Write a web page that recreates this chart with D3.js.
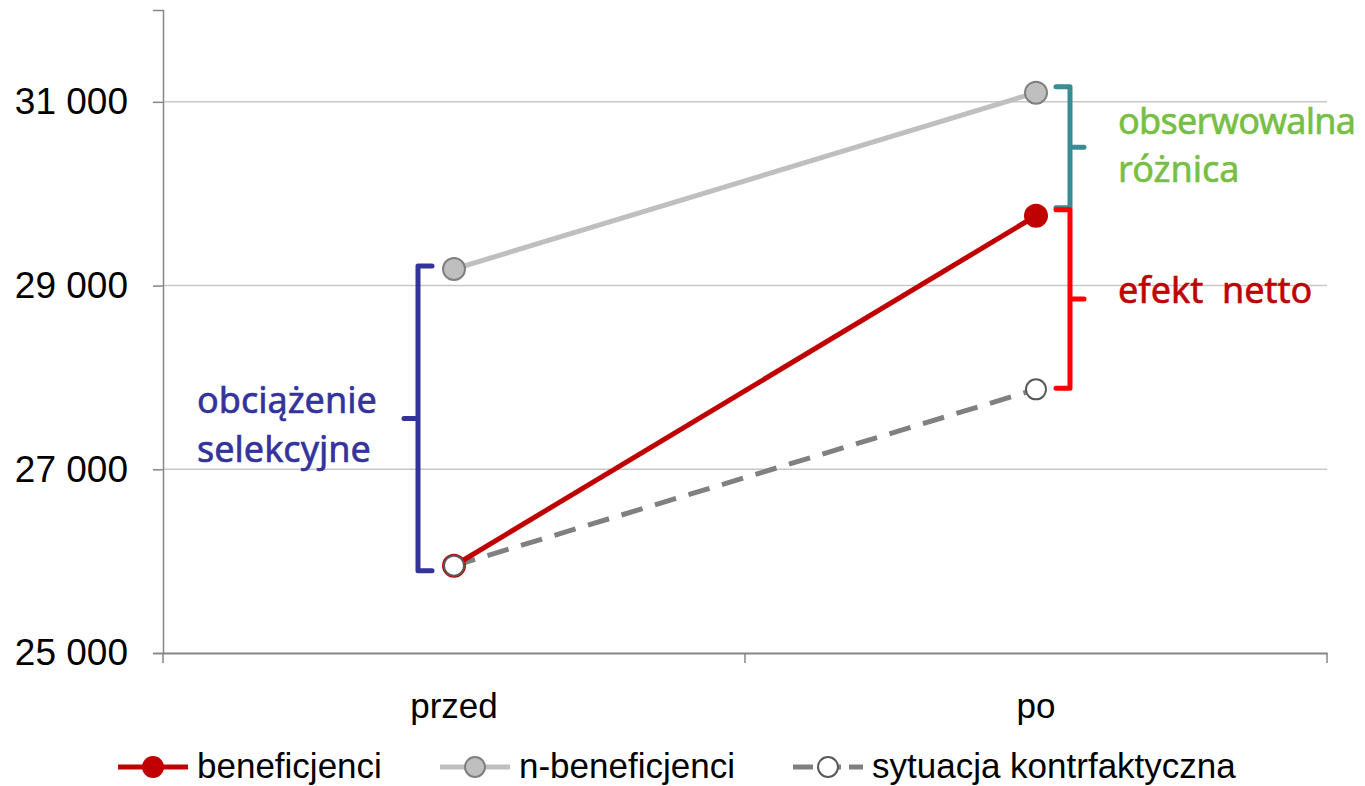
<!DOCTYPE html>
<html>
<head>
<meta charset="utf-8">
<script src="https://cdn.jsdelivr.net/npm/d3@7"></script>
<style>
  body { margin: 0; background: #fff; }
  .tick text { font-family: "Liberation Sans", Arial, sans-serif; fill: #000; }
  .note { font-family: "Noto Sans", sans-serif; font-size: 36px; stroke-width: 0.6px; }
</style>
</head>
<body>
<div id="chart"></div>
<script>
// data
var periods = ["przed", "po"];
var beneficjenci = [25950, 29760];
var nBeneficjenci = [29180, 31100];
var kontrfakt = [25950, 27870];
var yTicks = [25000, 27000, 29000, 31000];
var seriesNames = ["beneficjenci", "n-beneficjenci", "sytuacja kontrfaktyczna"];

var svg = d3.select("#chart").append("svg")
    .attr("width", 1365)
    .attr("height", 786);

var margin = {top: 10, right: 38, bottom: 133, left: 163},
    width = 1365 - margin.left - margin.right,
    height = 786 - margin.top - margin.bottom;

var g = svg.append("g")
    .attr("transform", "translate(" + margin.left + "," + margin.top + ")");

var x = d3.scaleBand().domain(periods).range([0, width]);
var y = d3.scaleLinear().domain([25000, 32000]).range([height, 0]);
var cx = function(i) { return x(periods[i]) + x.bandwidth() / 2; };
var fmt = function(d) { return d3.format(",")(d).replace(",", " "); };

// gridlines
g.selectAll(".grid")
    .data(yTicks.slice(1))
  .enter().append("line")
    .attr("x1", 0).attr("x2", width)
    .attr("y1", function(d) { return y(d); })
    .attr("y2", function(d) { return y(d); })
    .attr("stroke", "#c8c8c8").attr("stroke-width", 1.5);

// axes
var yAxis = g.append("g")
    .call(d3.axisLeft(y).tickValues(yTicks).tickFormat(fmt).tickSize(10).tickPadding(25));
yAxis.selectAll("text").style("font-size", "37px");
yAxis.selectAll("line,path").attr("stroke", "#868686").attr("stroke-width", 1.5);

var xAxis = g.append("g")
    .attr("transform", "translate(0," + height + ")")
    .call(d3.axisBottom(x).tickSize(0).tickPadding(40));
xAxis.selectAll("text").style("font-size", "35px");
xAxis.select(".domain").attr("stroke", "#868686").attr("stroke-width", 2);
xAxis.selectAll(".bound")
    .data([0, width / 2, width])
  .enter().append("line")
    .attr("x1", function(d) { return d; }).attr("x2", function(d) { return d; })
    .attr("y1", 0).attr("y2", 10)
    .attr("stroke", "#868686").attr("stroke-width", 1.5);

// lines
var line = d3.line()
    .x(function(d, i) { return cx(i); })
    .y(function(d) { return y(d); });

g.append("path").datum(kontrfakt).attr("d", line)
    .attr("fill", "none").attr("stroke", "#808080").attr("stroke-width", 5)
    .attr("stroke-dasharray", "22,13");
g.append("path").datum(nBeneficjenci).attr("d", line)
    .attr("fill", "none").attr("stroke", "#bfbfbf").attr("stroke-width", 5);
g.append("path").datum(beneficjenci).attr("d", line)
    .attr("fill", "none").attr("stroke", "#c00000").attr("stroke-width", 5);

function markers(data, fill, stroke, r) {
  g.selectAll(null).data(data).enter().append("circle")
      .attr("cx", function(d, i) { return cx(i); })
      .attr("cy", function(d) { return y(d); })
      .attr("r", r)
      .attr("fill", fill).attr("stroke", stroke).attr("stroke-width", 2);
}
markers(beneficjenci, "#c00000", "#c00000", 11);
markers(nBeneficjenci, "#bfbfbf", "#7f7f7f", 11);
markers(kontrfakt.slice(0, 1), "#fff", "#595959", 10);
g.append("circle").attr("cx", cx(1)).attr("cy", y(kontrfakt[1])).attr("r", 10)
    .attr("fill", "#fff").attr("stroke", "#595959").attr("stroke-width", 2);

// curly brackets
function bracket(xPos, y0, y1, dir, color) {
  // dir = +1 opens to the right, -1 opens to the left
  var ym = (y0 + y1) / 2, tip = 14 * dir;
  var p = d3.path();
  p.moveTo(xPos + tip, y0);
  p.lineTo(xPos, y0);
  p.lineTo(xPos, y1);
  p.lineTo(xPos + tip, y1);
  p.moveTo(xPos, ym);
  p.lineTo(xPos - tip, ym);
  g.append("path").attr("d", p.toString())
      .attr("fill", "none").attr("stroke", color).attr("stroke-width", 5)
      .attr("stroke-linejoin", "round").attr("stroke-linecap", "round");
}
bracket(255, y(nBeneficjenci[0]) - 3, y(beneficjenci[0]) + 5, 1, "#333399");
bracket(907, y(nBeneficjenci[1]) - 6, y(beneficjenci[1]) - 8, -1, "#3a8b93");
bracket(907, y(beneficjenci[1]) - 6, y(kontrfakt[1]) - 1, -1, "#ff0000");

// annotation texts
var notes = [
  {t: "obciążenie", x: 34, y: 403, c: "#333399"},
  {t: "selekcyjne", x: 34, y: 452, c: "#333399"},
  {t: "obserwowalna", x: 955, y: 124, c: "#77bf44", w: 238},
  {t: "różnica", x: 955, y: 172, c: "#77bf44"},
  {t: "efekt\u00a0 netto", x: 955, y: 293, c: "#c00000"}
];
g.selectAll(".note").data(notes).enter().append("text")
    .attr("class", "note")
    .attr("x", function(d) { return d.x; })
    .attr("y", function(d) { return d.y; })
    .attr("fill", function(d) { return d.c; })
    .attr("stroke", function(d) { return d.c; })
    .attr("textLength", function(d) { return d.w || null; })
    .text(function(d) { return d.t; });

// legend
var legendItems = [
  {name: seriesNames[0], x: 118, stroke: "#c00000", dash: null, fill: "#c00000", ms: "#c00000"},
  {name: seriesNames[1], x: 440, stroke: "#bfbfbf", dash: null, fill: "#bfbfbf", ms: "#7f7f7f"},
  {name: seriesNames[2], x: 793, stroke: "#808080", dash: "20,8", fill: "#fff", ms: "#595959"}
];
var lg = svg.append("g").attr("transform", "translate(0,767)");
var li = lg.selectAll(".li").data(legendItems).enter().append("g")
    .attr("transform", function(d) { return "translate(" + d.x + ",0)"; });
li.append("line").attr("x1", 0).attr("x2", 70).attr("y1", 0).attr("y2", 0)
    .attr("stroke", function(d) { return d.stroke; }).attr("stroke-width", 5)
    .attr("stroke-dasharray", function(d) { return d.dash; });
li.append("circle").attr("cx", 35).attr("cy", 0).attr("r", 10)
    .attr("fill", function(d) { return d.fill; })
    .attr("stroke", function(d) { return d.ms; }).attr("stroke-width", 2);
li.append("text").attr("x", 79).attr("y", 11)
    .style("font-family", "'Liberation Sans', Arial, sans-serif")
    .style("font-size", "35px")
    .text(function(d) { return d.name; });
</script>
</body>
</html>
